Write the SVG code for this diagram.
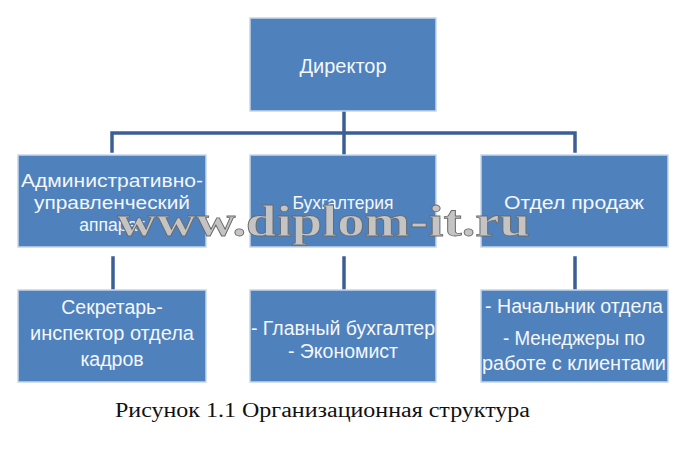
<svg xmlns="http://www.w3.org/2000/svg" width="690" height="460" viewBox="0 0 690 460">
<style>
.box{fill:#4f81bd;stroke:#c6d6ea;stroke-width:1.5}
.t{font-family:"Liberation Sans","DejaVu Sans",sans-serif;fill:#f4f7fb;text-anchor:middle}
.m{font-size:17.5px}
.b{font-size:19.5px}
.d{font-size:20px}
.c{fill:none;stroke:#3b5f95;stroke-width:3.5;stroke-linecap:square}
.wm{font-family:"Liberation Serif",serif;font-size:44px;font-weight:bold;fill:#c4c4c4;stroke:#6a6a6a;stroke-width:0.8}
.cap{font-family:"Liberation Serif",serif;font-size:20px;fill:#111}
</style>
<rect width="690" height="460" fill="#ffffff"/>
<g id="connectors">
<path class="c" d="M344 112 V133 M112 151 V133 H575 V151 M344 133 V153"/>
<path class="c" d="M113 258 V288 M344 258 V288 M575 258 V288"/>
</g>
<g id="director">
<rect class="box" x="250" y="18" width="186" height="93"/>
<text class="t d" x="343" y="73">Директор</text>
</g>
<g id="admin">
<rect class="box" x="18" y="155" width="188" height="92"/>
<text class="t m" x="112" y="187" textLength="182" lengthAdjust="spacingAndGlyphs">Административно-</text>
<text class="t m" x="112" y="209" textLength="156" lengthAdjust="spacingAndGlyphs">управленческий</text>
<text class="t m" x="112" y="231">аппарат</text>
</g>
<g id="buh">
<rect class="box" x="250" y="155" width="186" height="92"/>
<text class="t m" x="343" y="209">Бухгалтерия</text>
</g>
<g id="sales">
<rect class="box" x="481" y="155" width="187" height="92"/>
<text class="t m" x="574" y="209" textLength="140" lengthAdjust="spacingAndGlyphs">Отдел продаж</text>
</g>
<g id="secretary">
<rect class="box" x="18" y="290" width="188" height="92"/>
<text class="t b" x="112" y="314">Секретарь-</text>
<text class="t b" x="112" y="340" textLength="164" lengthAdjust="spacingAndGlyphs">инспектор отдела</text>
<text class="t b" x="112" y="366">кадров</text>
</g>
<g id="buh-staff">
<rect class="box" x="250" y="290" width="186" height="92"/>
<text class="t b" x="343" y="335" textLength="184" lengthAdjust="spacingAndGlyphs">- Главный бухгалтер</text>
<text class="t b" x="343" y="358">- Экономист</text>
</g>
<g id="sales-staff">
<rect class="box" x="481" y="290" width="187" height="92"/>
<text class="t b" x="574" y="313" textLength="178" lengthAdjust="spacingAndGlyphs">- Начальник отдела</text>
<text class="t b" x="574" y="345" textLength="142" lengthAdjust="spacingAndGlyphs">- Менеджеры по</text>
<text class="t b" x="574" y="370" textLength="184" lengthAdjust="spacingAndGlyphs">работе с клиентами</text>
</g>
<text class="wm" x="117" y="236" textLength="413" lengthAdjust="spacingAndGlyphs">www.diplom-it.ru</text>
<text class="cap" x="115" y="417" textLength="415" lengthAdjust="spacingAndGlyphs">Рисунок 1.1 Организационная структура</text>
</svg>
